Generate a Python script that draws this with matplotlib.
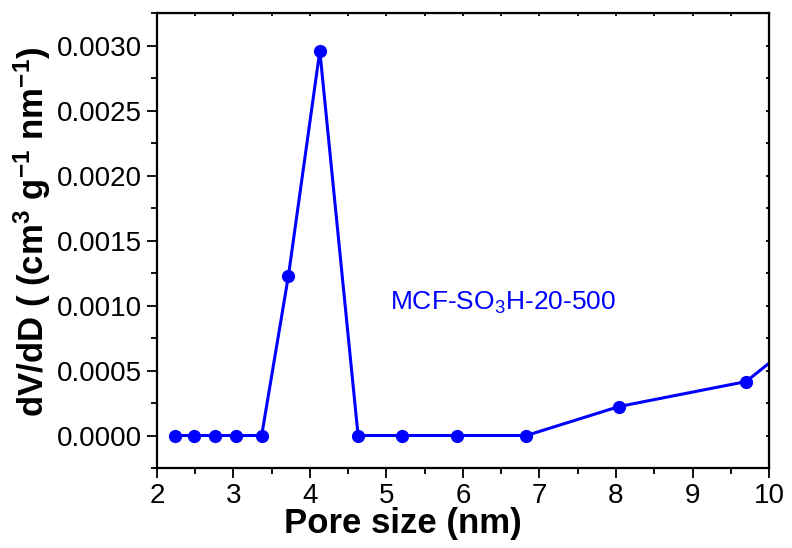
import numpy as np
import matplotlib
matplotlib.use("Agg")
import matplotlib.pyplot as plt
from matplotlib.ticker import MultipleLocator, FormatStrFormatter, NullFormatter

plt.rcParams['font.family'] = ['Liberation Sans', 'DejaVu Sans']
plt.rcParams['mathtext.fontset'] = 'custom'
plt.rcParams['mathtext.rm'] = 'Liberation Sans'
plt.rcParams['mathtext.it'] = 'Liberation Sans'
plt.rcParams['mathtext.bf'] = 'Liberation Sans:bold'

# pore size distribution
pore_size = [2.24, 2.49, 2.76, 3.04, 3.37, 3.72, 4.13, 4.63, 5.21, 5.92, 6.83, 8.04, 9.70, 11.9]
dvdd      = [0.0, 0.0, 0.0, 0.0, 0.0, 0.00123, 0.00296, 0.0, 0.0, 0.0, 0.0, 0.000223, 0.000415, 0.00145]

sample_label = "MCF-SO$_3$H-20-500"
blue = "#0000ff"

fig = plt.figure(figsize=(7.92, 5.48), dpi=100)
ax = fig.add_axes([0.198, 0.146, 0.773, 0.830])

ax.plot(pore_size, dvdd, color=blue, lw=2.2, marker="o", ms=8.5)

ax.set_xlim(2, 10)
ax.set_ylim(-0.00025, 0.00325)
ax.xaxis.set_major_locator(MultipleLocator(1))
ax.xaxis.set_minor_locator(MultipleLocator(0.5))
ax.yaxis.set_major_locator(MultipleLocator(0.0005))
ax.yaxis.set_minor_locator(MultipleLocator(0.00025))
ax.yaxis.set_major_formatter(FormatStrFormatter("%.4f"))

ax.tick_params(which="both", direction="out", labelsize=20, width=1.3)
ax.tick_params(which="major", length=7)
ax.tick_params(which="minor", length=4)
for s in ax.spines.values():
    s.set_linewidth(1.6)

# tiny inward ticks on the top and right frame
top = ax.secondary_xaxis("top")
top.xaxis.set_major_locator(MultipleLocator(0.5))
top.xaxis.set_major_formatter(NullFormatter())
top.tick_params(direction="in", length=2, width=1.3)
right = ax.secondary_yaxis("right")
right.yaxis.set_major_locator(MultipleLocator(0.00025))
right.yaxis.set_major_formatter(NullFormatter())
right.tick_params(direction="in", length=2, width=1.3)

ax.set_xlabel("Pore size (nm)", fontsize=25, fontweight="bold")
ax.xaxis.set_label_coords(0.402, -0.085)
ax.set_ylabel(r"dV/dD ( (cm$^\mathbf{3}$ g$^\mathbf{-1}$ nm$^\mathbf{-1}$)", fontsize=25,
              fontweight="bold")
ax.yaxis.set_label_coords(-0.17, 0.52)

ax.text(0.381, 0.363, sample_label, transform=ax.transAxes, color=blue,
        fontsize=19, va="center", ha="left")

fig.savefig("out.png", dpi=100)
